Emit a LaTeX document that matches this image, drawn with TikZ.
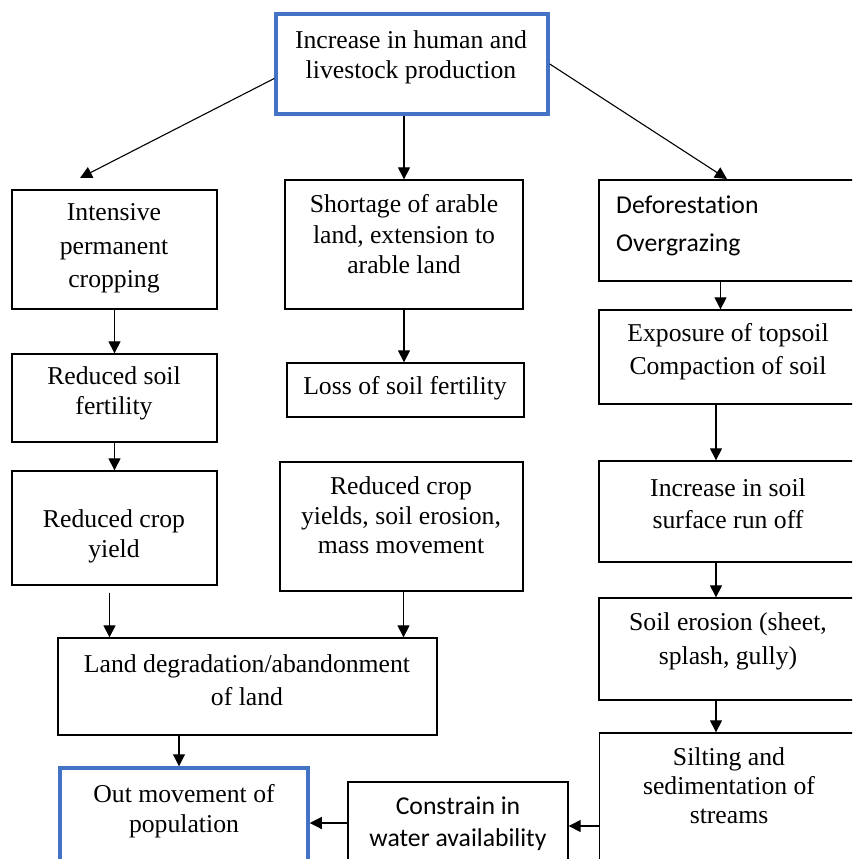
\documentclass[tikz,border=0pt]{standalone}
\usepackage{fontspec}
\setmainfont{Liberation Serif}
\newfontfamily\calfont[Ligatures=NoCommon]{Carlito}
\usepackage{xcolor}
\usetikzlibrary{arrows.meta, positioning}
\definecolor{keyblue}{RGB}{68,114,196}

\begin{document}
\begin{tikzpicture}[
    x=1pt, y=-1pt,
    >={Triangle[length=12pt, width=12pt]},
    box/.style={draw, line width=1.3pt, inner sep=0pt},
    keybox/.style={draw=keyblue, line width=3.5pt, inner sep=0pt},
    txt/.style={align=center, inner sep=0pt, font=\fontsize{25.7}{#1}\selectfont},
    txt/.default=31,
    caltxt/.style={align=center, inner sep=0pt, font=\calfont\fontsize{25.7}{#1}\selectfont},
    caltxt/.default=32,
    flow/.style={->, line width=1.1pt},
]
\clip (0,0) rectangle (852,859);

% top
\node[keybox, minimum width=272, minimum height=100] (top) at (412,64) {};
\node[txt=30] (toptxt) at (411,57) {Increase in human and\\livestock production};

% left column
\node[box, minimum width=205, minimum height=119] (crop) at (114.5,249.5) {};
\node[txt=33.5] (croptxt) at (114,248.5) {Intensive\\permanent\\cropping};
\node[box, minimum width=205, minimum height=88] (fert) at (114.5,398) {};
\node[txt=30] (ferttxt) at (114,393) {Reduced soil\\fertility};
\node[box, minimum width=205, minimum height=114] (yield) at (114.5,528) {};
\node[txt=30] (yieldtxt) at (114,536) {Reduced crop\\yield};

% middle column
\node[box, minimum width=238, minimum height=129] (arable) at (404,244.5) {};
\node[txt=30.5] (arabletxt) at (404,234.5) {Shortage of arable\\land, extension to\\arable land};
\node[box, minimum width=237, minimum height=54] (loss) at (405.5,390) {};
\node[txt] (losstxt) at (405,388) {Loss of soil fertility};
\node[box, minimum width=243, minimum height=129] (yields) at (401.5,526.5) {};
\node[txt=29.5] (yieldstxt) at (401,515.5) {Reduced crop\\yields, soil erosion,\\mass movement};

% right column
\node[box, minimum width=263, minimum height=101] (defor) at (730.5,230.5) {};
\node[caltxt=38, align=left, anchor=west] (defortxt) at (616,226) {Deforestation\\Overgrazing};
\node[box, minimum width=258, minimum height=94] (expo) at (728,357) {};
\node[txt=33] (expotxt) at (728,351.5) {Exposure of topsoil\\Compaction of soil};
\node[box, minimum width=258, minimum height=101] (runoff) at (728,511.5) {};
\node[txt=32] (runofftxt) at (728,504) {Increase in soil\\surface run off};
\node[box, minimum width=258, minimum height=102] (erosion) at (728,649) {};
\node[txt=34] (erosiontxt) at (728,641) {Soil erosion (sheet,\\splash, gully)};
\node[box, minimum width=258, minimum height=186] (silt) at (728.5,826) {};
\node[txt=29] (silttxt) at (729,786) {Silting and\\sedimentation of\\streams};

% bottom
\node[box, minimum width=379, minimum height=97] (land) at (247.5,686.5) {};
\node[txt=33] (landtxt) at (247,680.5) {Land degradation/abandonment\\of land};
\node[keybox, minimum width=248, minimum height=112] (outmove) at (184,824) {};
\node[txt=30] (outmovetxt) at (184,811) {Out movement of\\population};
\node[box, minimum width=220, minimum height=88] (water) at (458,826) {};
\node[caltxt=32] (watertxt) at (458,824) {Constrain in\\water availability};

\coordinate (cropin) at (80,178);
\coordinate (deforin) at (727,179);

\draw[flow] (top.186) -- (cropin);
\draw[flow] (top.east) -- (deforin);
\draw[flow] (top.south -| arable.north) -- (arable.north);
\draw[flow] (crop) -- (fert);
\draw[flow] (fert) -- (yield);
\draw[flow, shorten <=7pt] ([xshift=-5]yield.south) -- ([xshift=-5]yield.south |- land.north);
\draw[flow] (arable.south) -- (arable.south |- loss.north);
\draw[flow] ([xshift=2]yields.south) -- ([xshift=2]yields.south |- land.north);
\draw[flow] ([xshift=-5]outmove.north |- land.south) -- ([xshift=-5]outmove.north);
\draw[flow] ([xshift=-10]defor.south) -- ([xshift=-10]defor.south |- expo.north);
\draw[flow] ([xshift=-12]expo.south) -- ([xshift=-12]expo.south |- runoff.north);
\draw[flow] ([xshift=-12]runoff.south) -- ([xshift=-12]runoff.south |- erosion.north);
\draw[flow] ([xshift=-12]erosion.south) -- ([xshift=-12]erosion.south |- silt.north);
\draw[flow] (silt.west) -- (silt.west -| water.east);
\draw[flow] ([yshift=3]water.west) -- ([yshift=3]water.west -| outmove.east);
\end{tikzpicture}
\end{document}
